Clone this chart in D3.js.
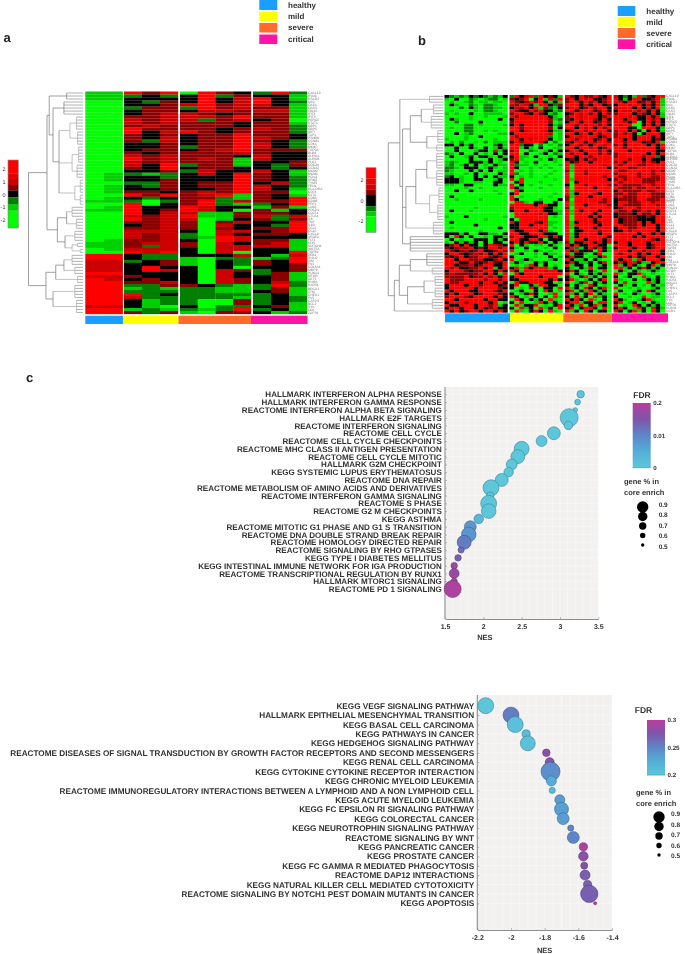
<!DOCTYPE html>
<html>
<head>
<meta charset="utf-8">
<script src="https://cdn.jsdelivr.net/npm/d3@7"></script>
<style>
  html, body { margin: 0; padding: 0; background: #fff; }
  svg { display: block; filter: blur(0.3px); text-rendering: geometricPrecision; }
  text { font-family: "Liberation Sans", Arial, sans-serif; }
</style>
</head>
<body>
<svg id="figure" width="685" height="954" viewBox="0 0 685 954"></svg>
<script>
// groups shared by both heatmaps
const groups = ["healthy", "mild", "severe", "critical"];
const samplesA = [2, 3, 4, 3];
const samplesB = [13, 11, 10, 11];

// heat levels, 0 = most green, 3 = black, 7 = most red. one string per gene, spaces split the groups
const heatA = [
  "11 747 0743 272", "11 232 3724 331", "11 333 3735 731", "00 324 3735 732", "00 334 5745 531",
  "00 244 2745 441", "00 344 3554 551", "00 345 5434 441", "00 445 5547 441", "00 545 5245 340",
  "00 545 4443 441", "00 454 4443 442", "00 744 4434 542", "00 735 7434 442", "00 434 3447 443",
  "00 435 3447 543", "00 425 3447 432", "00 334 3447 532", "00 334 2447 532", "00 344 3457 444",
  "00 434 4445 433", "00 545 4443 533", "00 745 4541 533", "00 545 4441 334", "00 537 2441 324",
  "00 437 3443 323", "00 334 2533 531", "01 212 3537 431", "01 332 3337 432", "01 334 3337 432",
  "00 224 3447 352", "01 324 3447 532", "01 334 3347 531", "01 443 4547 440", "00 747 4571 431",
  "01 323 4421 437", "11 202 4725 447", "00 703 4721 237", "01 733 7533 141", "11 734 7530 413",
  "00 735 5114 443", "00 545 7114 525", "00 745 5013 424", "00 445 4045 337", "00 345 4053 327",
  "00 445 4043 447", "00 555 3055 347", "00 545 2053 443", "00 545 2175 333", "01 445 3075 441",
  "11 455 4053 451", "11 425 4055 551", "01 555 3055 331", "00 757 3050 337", "77 322 3335 315",
  "77 322 1022 127", "55 234 1032 437", "55 334 1032 434", "55 373 3030 334", "55 375 3054 234",
  "77 333 3053 241", "55 433 3053 341", "75 343 3054 341", "77 445 3054 352", "77 224 4321 272",
  "77 121 2211 241", "77 222 2211 341", "77 723 2222 231", "77 522 2221 232", "77 312 2004 232",
  "77 312 2004 231", "55 310 3022 341", "77 121 2127 231", "77 424 1044 312"
];
const heatB = [
  "3212132321213 27357273431 7437447437 53231724377",
  "1030021012201 43470371527 4737573347 73137733471",
  "0100120110110 74347473131 4773747347 75377347371",
  "0310021022100 54753177324 7773537734 37757735371",
  "0002031022110 35473714213 4773474773 57773735370",
  "0100001022100 74337473312 7735773473 37557473730",
  "1010030011110 47743743120 3475747374 47773543731",
  "0000010010001 74777777310 4775777347 77757337371",
  "0310010000030 37777777412 4375774373 77377337473",
  "0020000300000 47777777401 3773773474 77537037373",
  "0000220100001 37377777312 7747577473 75770037373",
  "0100220000000 77477777403 7737573747 77733077731",
  "0000220010100 77357775311 3477475773 47737303731",
  "0030120000011 37777777501 7735737477 47473037773",
  "0000100300000 74777777201 3775777347 47773777373",
  "1000100000100 77375777301 7747773473 77373777343",
  "0102001020111 37477753020 4377374774 77477734371",
  "3303130000231 77233020102 3774737757 47377773737",
  "0030031030131 77131030011 7737757347 77477777737",
  "0030001330713 47002101303 3773777473 77737777733",
  "2103003010303 77030013021 7477377474 47777773737",
  "0300130331031 37110300103 7737747777 47777747723",
  "0000030003013 47100010310 3437374777 77747737333",
  "1210033313010 73010300010 7347737777 47377747437",
  "1201303010311 72110101001 7177777757 74777447777",
  "2210333013101 73001010100 7177777773 47744777777",
  "2100030303011 70101000010 4177477777 74477777474",
  "1100103010031 72001000100 7077477777 47777477477",
  "2301003030311 30101001000 7077777747 74477477447",
  "3331003300130 70700000010 7177777773 47477744447",
  "3331001100330 03700010000 7037777777 74777744477",
  "1100330000311 70301000100 3077477774 47444477477",
  "0000100100000 73100010000 7077773777 74447447747",
  "0030030000100 07300000000 7177777777 37444474477",
  "0000000000010 37000000010 7137775377 44744777444",
  "0300000000000 70100000100 4177737777 47444777444",
  "0010000100000 73000010003 4077777747 34444774447",
  "0000000000000 07710330030 7177777447 37744477477",
  "0000000000000 77777377330 7177377774 37444477747",
  "0000001000000 47777773310 4077777777 34777477777",
  "0300010000000 37737773311 7173777377 74473474737",
  "0000000000000 07777757331 7177773777 34443744737",
  "1000300000001 07777777010 7077737377 34444334377",
  "0000000010000 30777777000 7077773777 73444333377",
  "0300000000000 73777437110 7137773477 73444737377",
  "0000003000000 33773777100 7177777377 77444737737",
  "0100000000030 33777777010 7137773777 37744777737",
  "0000000100000 73377737100 7033777477 33747777737",
  "3331300331103 77337773330 7137777377 77777377373",
  "3073030010331 47733377373 7137777773 77773737777",
  "0301003330313 77337730333 7177377737 77777777437",
  "1031313030330 37373373031 4133773737 37737773777",
  "3473733037543 70310110310 7373377330 77737773477",
  "4345473437747 31030001030 3721373731 37773773477",
  "7434534733474 70010310100 7373330731 77737747773",
  "3774345473737 01300103110 7133103700 74777373773",
  "4347344774347 30000100301 3733011370 77737347737",
  "7737744533473 70131000130 7311303100 73771737773",
  "7773374347437 13100313000 3731130370 37377311377",
  "7734453477337 01017303010 7133030130 71373103713",
  "7473344737137 37173777130 3103170330 77130373130",
  "3777434477373 73177775773 3730131070 03103101310",
  "4544444737317 07377777777 7031031310 71033710100",
  "4444734474737 37777737770 3103713030 30130071030",
  "7444777747747 33777777373 3710130370 71003013130",
  "7447777377373 07337773301 7013703130 30701007130",
  "3777377477734 37003177330 3031073010 03103010301",
  "3777773777743 30107303307 7130730370 70010100130",
  "7377733777437 01300307301 3703173130 03001307300",
  "3737773477743 30137300170 7130370310 70103100130",
  "4777437777373 73010303071 3071307130 30010070110",
  "7737777737733 07303130710 7373071030 73100137100",
  "3777477773701 30700173130 3771330770 37013010310",
  "7337773774713 07133701037 7317037130 70107303130",
  "3773773734733 30713071307 3703773070 37301730731",
  "7373477377373 07103730710 7130730330 73037130730"
];

// gene labels, far too small to read in the source so these are estimates
const genes = ["CXCL10","IFI44L","RSAD2","MX1","OAS1","OAS3","ISG15","IFIT1","IFIT3","HERC5","STAT1","GBP1","GBP5","IRF7","TAP1","PSMB9",
  "CCNB1","CDK1","MKI67","TOP2A","BUB1","AURKA","AURKB","PLK1","CDC20","CCNA2","MCM2","MCM4","PCNA","RRM2","TYMS","FEN1",
  "HLA-DRA","CD74","CIITA","CD8A","GZMB","PRF1","LAG3","PDCD1","CD274","CTLA4","IL6","TNF","IL1B","CCL2","CCL5","CXCL9",
  "VEGFA","FLT1","KDR","NOTCH1","WNT5A","TGFB1","ZEB1","SNAI2","VIM","FN1","COL1A1","MMP9","RUNX1","MTOR","AKT1","RHOA",
  "RAD51","BRCA1","ATM","CHEK1","FAS","CASP3","BCL2","SYK","LCK","ZAP70","KLRD1","NCR1"];

// dendrograms: [height, children...], a plain number stands for that many leaves
const treeA = [1,
  [0.66,
    [0.62, [0.3, 3], [0.55, [0.35, 5], [0.44, [0.24, [0.12, 5], [0.1, 5]], [0.2, [0.08, 6], [0.11, 5]], [0.15, [0.05, 5], [0.05, 4]]]]],
    [0.47, [0.3, [0.2, 4], [0.12, 4]], [0.33, [0.15, 4], [0.2, [0.1, 2], [0.05, 2]]]]],
  [0.68, [0.5, [0.35, [0.2, 4], [0.15, 3]], [0.1, 3]], [0.55, [0.15, 5], [0.12, 5]]]
];
const treeB = [1,
  [0.79, [0.25, 3],
    [0.74,
      [0.6, [0.4, [0.18, 4], [0.22, 5]], [0.3, [0.1, 5], [0.12, 3]]],
      [0.68, [0.5, [0.3, [0.12, 6], [0.12, 6]], [0.25, [0.08, 6], [0.1, 6]]], [0.18, 5]],
      [0.6, 6]]],
  [0.89, [0.8, [0.6, [0.3, 5], [0.2, 3]], [0.65, [0.35, [0.15, 4], [0.15, 4]], [0.2, 4]]], 1]
];

// panel c
const pathwaysUp = ["HALLMARK INTERFERON ALPHA RESPONSE","HALLMARK INTERFERON GAMMA RESPONSE","REACTOME INTERFERON ALPHA BETA SIGNALING",
  "HALLMARK E2F TARGETS","REACTOME INTERFERON SIGNALING","REACTOME CELL CYCLE","REACTOME CELL CYCLE CHECKPOINTS",
  "REACTOME MHC CLASS II ANTIGEN PRESENTATION","REACTOME CELL CYCLE MITOTIC","HALLMARK G2M CHECKPOINT","KEGG SYSTEMIC LUPUS ERYTHEMATOSUS",
  "REACTOME DNA REPAIR","REACTOME METABOLISM OF AMINO ACIDS AND DERIVATIVES","REACTOME INTERFERON GAMMA SIGNALING","REACTOME S PHASE",
  "REACTOME G2 M CHECKPOINTS","KEGG ASTHMA","REACTOME MITOTIC G1 PHASE AND G1 S TRANSITION","REACTOME DNA DOUBLE STRAND BREAK REPAIR",
  "REACTOME HOMOLOGY DIRECTED REPAIR","REACTOME SIGNALING BY RHO GTPASES","KEGG TYPE I DIABETES MELLITUS",
  "KEGG INTESTINAL IMMUNE NETWORK FOR IGA PRODUCTION","REACTOME TRANSCRIPTIONAL REGULATION BY RUNX1","HALLMARK MTORC1 SIGNALING","REACTOME PD 1 SIGNALING"];
const nesUp = [3.27,3.23,3.2,3.12,3.11,2.92,2.76,2.5,2.45,2.37,2.33,2.24,2.1,2.09,2.07,2.07,1.94,1.83,1.81,1.75,1.71,1.67,1.62,1.62,1.62,1.6];
const coreUp = [0.59,0.54,0.5,0.9,0.62,0.75,0.69,0.81,0.78,0.69,0.65,0.75,0.84,0.59,0.84,0.8,0.65,0.72,0.8,0.78,0.55,0.56,0.56,0.66,0.55,0.87];
const fdrUp = [0,0,0,0,0,0,0,0,0,0,0,0,0,0,0,0,0.003,0.008,0.008,0.03,0.06,0.09,0.15,0.15,0.15,0.18];

// panel d
const pathwaysDown = ["KEGG VEGF SIGNALING PATHWAY","HALLMARK EPITHELIAL MESENCHYMAL TRANSITION","KEGG BASAL CELL CARCINOMA","KEGG PATHWAYS IN CANCER",
  "KEGG HEDGEHOG SIGNALING PATHWAY","REACTOME DISEASES OF SIGNAL TRANSDUCTION BY GROWTH FACTOR RECEPTORS AND SECOND MESSENGERS","KEGG RENAL CELL CARCINOMA",
  "KEGG CYTOKINE CYTOKINE RECEPTOR INTERACTION","KEGG CHRONIC MYELOID LEUKEMIA","REACTOME IMMUNOREGULATORY INTERACTIONS BETWEEN A LYMPHOID AND A NON LYMPHOID CELL",
  "KEGG ACUTE MYELOID LEUKEMIA","KEGG FC EPSILON RI SIGNALING PATHWAY","KEGG COLORECTAL CANCER","KEGG NEUROTROPHIN SIGNALING PATHWAY","REACTOME SIGNALING BY WNT",
  "KEGG PANCREATIC CANCER","KEGG PROSTATE CANCER","KEGG FC GAMMA R MEDIATED PHAGOCYTOSIS","REACTOME DAP12 INTERACTIONS","KEGG NATURAL KILLER CELL MEDIATED CYTOTOXICITY",
  "REACTOME SIGNALING BY NOTCH1 PEST DOMAIN MUTANTS IN CANCER","KEGG APOPTOSIS"];
const nesDown = [-2.15,-2,-1.975,-1.91,-1.9,-1.79,-1.77,-1.765,-1.76,-1.755,-1.71,-1.7,-1.69,-1.645,-1.63,-1.57,-1.57,-1.565,-1.56,-1.545,-1.535,-1.5];
const coreDown = [0.84,0.84,0.84,0.61,0.81,0.59,0.635,0.93,0.665,0.55,0.665,0.78,0.72,0.55,0.72,0.61,0.65,0.575,0.665,0.61,0.88,0.46];
const fdrDown = [0.2,0.255,0.205,0.21,0.205,0.28,0.28,0.245,0.225,0.21,0.235,0.235,0.235,0.25,0.25,0.295,0.28,0.275,0.27,0.27,0.27,0.3];

const coreTicks = [0.9, 0.8, 0.7, 0.6, 0.5];
const nesTicksUp = [1.5, 2, 2.5, 3, 3.5];
const nesTicksDown = [-2.2, -2, -1.8, -1.6, -1.4];

// colour scales
const groupColor = d3.scaleOrdinal(groups, ["#189fff", "#ffff00", "#ff6b2b", "#ff14a5"]);
const heatColor = d3.scaleOrdinal(d3.range(8),
  ["#00ff00", "#00cf00", "#007f00", "#000000", "#8b0000", "#cc0000", "#e60000", "#ff0000"]);
const fdrRamp = d3.scaleLinear([0, 0.25, 0.5, 0.75, 1],
  ["#5cc6da", "#55aed8", "#5d86c8", "#7f55aa", "#b93d9d"]);
const textDark = "#333";

var svg = d3.select("#figure");

// ---- heatmaps ----
function drawHeatmap(p) {
  var g = svg.append("g");
  var rows = p.rows.map(function(r) { return r.replace(/ /g, "").split("").map(Number); });
  var y = d3.scaleBand().domain(d3.range(rows.length)).range([p.top, p.bottom]);

  // one band scale per group, columns are numbered straight through
  var bands = [], offset = 0;
  p.samples.forEach(function(n, i) {
    bands.push(d3.scaleBand().domain(d3.range(offset, offset + n)).range(p.groupX[i]));
    offset += n;
  });
  function band(c) {
    return bands.find(function(b) { return b.domain().includes(c); });
  }

  g.selectAll("g.row").data(rows).enter().append("g").attr("class", "row")
    .attr("transform", function(d, i) { return "translate(0," + y(i) + ")"; })
    .selectAll("rect").data(function(d) { return d; }).enter().append("rect")
    .attr("x", function(d, c) { return band(c)(c); })
    .attr("width", function(d, c) { return band(c).bandwidth() + 0.2; })
    .attr("height", y.bandwidth() + 0.15)
    .attr("fill", function(d) { return heatColor(d); });

  // gene labels
  var axisG = g.append("g").attr("transform", "translate(" + p.labelX + ",0)")
    .call(d3.axisRight(y).tickSize(0).tickPadding(0)
      .tickFormat(function(i) { return p.genes[i]; }));
  axisG.select(".domain").remove();
  axisG.selectAll("text").attr("font-size", 3.3).attr("fill", "#777")
    .style("font-family", '"Liberation Sans", Arial, sans-serif');

  // group bar under the heatmap
  g.selectAll("rect.bar").data(groups).enter().append("rect").attr("class", "bar")
    .attr("x", function(d, i) { return p.barX[i]; })
    .attr("width", function(d, i) { return p.barX[i + 1] - p.barX[i]; })
    .attr("y", p.barY[0]).attr("height", p.barY[1] - p.barY[0])
    .attr("fill", function(d) { return groupColor(d); });

  drawTree(g, p.tree, y, p.treeX);
  drawKey(g, p.key);

  // legend swatches
  p.legendY.forEach(function(ly, i) {
    g.append("rect").attr("x", p.legendX[0]).attr("y", ly[0])
      .attr("width", p.legendX[1] - p.legendX[0]).attr("height", ly[1] - ly[0])
      .attr("fill", groupColor(groups[i]));
    g.append("text").attr("x", p.legendText).attr("y", (ly[0] + ly[1]) / 2 + 2.7)
      .attr("font-size", 8).attr("font-weight", "bold").attr("fill", textDark).text(groups[i]);
  });
}

function drawTree(g, tree, y, range) {
  var x = d3.scaleLinear().domain([0, 1]).range(range);
  var leaf = 0;
  // numbers become leaf nodes, the rows are handed out top to bottom
  function build(n) {
    var kids = [];
    n.slice(1).forEach(function(c) {
      if (typeof c === "number") {
        for (var k = 0; k < c; k++) kids.push({ h: 0, row: leaf++ });
      } else kids.push(build(c));
    });
    return { h: n[0], children: kids };
  }
  var root = d3.hierarchy(build(tree));
  root.eachAfter(function(n) {
    n.py = n.children ? (n.children[0].py + n.children[n.children.length - 1].py) / 2
      : y(n.data.row) + y.bandwidth() / 2;
  });
  // low branches read as a pale band in the source
  function shade(h) { return h < 0.3 ? "#a8a8a8" : "#777"; }
  // horizontal runs first, the light leaf lines have to sit under the brackets
  g.append("g").selectAll("line").data(root.links()).enter().append("line")
    .attr("x1", function(d) { return x(d.source.data.h); })
    .attr("x2", function(d) { return x(d.target.data.h); })
    .attr("y1", function(d) { return d.target.py; })
    .attr("y2", function(d) { return d.target.py; })
    .attr("stroke", function(d) { return d.target.children ? shade(d.target.data.h) : "#b8b8b8"; })
    .attr("stroke-width", function(d) { return d.target.children ? 0.7 : 1.1; });
  g.append("g").selectAll("line")
    .data(root.descendants().filter(function(n) { return n.children; })).enter().append("line")
    .attr("x1", function(d) { return x(d.data.h); })
    .attr("x2", function(d) { return x(d.data.h); })
    .attr("y1", function(d) { return d.children[0].py; })
    .attr("y2", function(d) { return d.children[d.children.length - 1].py; })
    .attr("stroke", function(d) { return shade(d.data.h); }).attr("stroke-width", 0.7);
}

function drawKey(g, k) {
  var y = d3.scaleLinear().domain(k.domain).range(k.y);
  var edges = [k.domain[1]].concat(k.edges).concat([k.domain[0]]);
  g.selectAll("rect.key").data(d3.pairs(edges)).enter().append("rect").attr("class", "key")
    .attr("x", k.x[0]).attr("width", k.x[1] - k.x[0])
    .attr("y", function(d) { return y(d[0]); })
    .attr("height", function(d) { return y(d[1]) - y(d[0]) + 0.1; })
    .attr("fill", function(d, i) { return heatColor(7 - i); });
  g.append("rect").attr("x", k.x[0]).attr("y", k.y[1]).attr("width", k.x[1] - k.x[0])
    .attr("height", k.y[0] - k.y[1]).attr("fill", "none").attr("stroke", "#888").attr("stroke-width", 0.6);
  g.selectAll("text.key").data(k.ticks).enter().append("text").attr("class", "key")
    .attr("x", k.x[0] - 2.5).attr("y", function(d) { return y(d) + 2; })
    .attr("text-anchor", "end").attr("font-size", 5.5).attr("fill", textDark)
    .text(function(d) { return d; });
}

drawHeatmap({
  rows: heatA, samples: samplesA, genes: genes.slice(0, 74), tree: treeA,
  top: 91.5, bottom: 314,
  groupX: [[85.3, 122.7], [124, 178], [180, 251], [253, 307]],
  labelX: 308, barX: [85.3, 123.3, 178.5, 251, 307.5], barY: [315.7, 324],
  treeX: [83, 28.5],
  key: { x: [8, 18.3], y: [228, 160], domain: [-2.64, 2.75], edges: [1.7, 1.25, 0.77, 0.32, -0.2, -0.74, -1.27], ticks: [2, 1, 0, -1, -2] },
  legendX: [259.3, 277.3], legendText: 288, legendY: [[0, 10], [11.5, 21], [23, 32.5], [34.5, 44]]
});

drawHeatmap({
  rows: heatB, samples: samplesB, genes: genes, tree: treeB,
  top: 95, bottom: 312.5,
  groupX: [[444.5, 507.5], [509.5, 562.5], [565, 611.5], [613.5, 665]],
  labelX: 666, barX: [445, 510, 563.3, 611.7, 668], barY: [313.3, 322.3],
  treeX: [443.3, 388.3],
  key: { x: [366, 376], y: [232.3, 167.7], domain: [-3.1, 3.2], edges: [2.15, 1.55, 1.05, 0.55, -0.55, -1.05, -1.55], ticks: [2, 0, -2] },
  legendX: [617.7, 635.3], legendText: 646.3, legendY: [[6, 16], [17, 26.7], [28, 38], [39.3, 49]]
});

// ---- bubble panels ----
var coreRadius = d3.scaleLinear().domain([0.5, 0.9]).range([2.2, 9]);   // bubbles
var legendRadius = d3.scaleLinear().domain([0.5, 0.9]).range([1.7, 5.7]); // the legend in the source is smaller

var defs = svg.append("defs");

function drawBubbles(p) {
  var g = svg.append("g");
  var x = d3.scaleLinear().domain(d3.extent(p.ticks)).range(p.xRange);
  var y = d3.scalePoint().domain(p.names).range(p.yRows);
  // the colour bar is not linear, its middle label sits halfway up
  var fdrT = d3.scaleLinear().domain(p.fdrDomain).range([0, 0.5, 1]);
  var fdrY = d3.scaleLinear().domain(p.fdrDomain).range([p.bar.y[0], (p.bar.y[0] + p.bar.y[1]) / 2, p.bar.y[1]]);
  function col(f) { return fdrRamp(fdrT(f)); }

  // panel background and its fine grid
  g.append("rect").attr("x", p.xRange[0]).attr("y", p.yPanel[0])
    .attr("width", p.xRange[1] - p.xRange[0]).attr("height", p.yPanel[1] - p.yPanel[0]).attr("fill", "#f2f1f0");
  g.append("g").selectAll("line").data(x.ticks(20)).enter().append("line")
    .attr("x1", x).attr("x2", x).attr("y1", p.yPanel[0]).attr("y2", p.yPanel[1])
    .attr("stroke", "#fff").attr("stroke-width", 0.35);
  g.append("g").selectAll("line").data(p.names).enter().append("line")
    .attr("x1", p.xRange[0]).attr("x2", p.xRange[1]).attr("y1", y).attr("y2", y)
    .attr("stroke", "#fff").attr("stroke-width", 0.35);

  // axes
  var xAxis = g.append("g").attr("transform", "translate(0," + p.yPanel[1] + ")")
    .call(d3.axisBottom(x).tickValues(p.ticks).tickSizeOuter(0).tickSizeInner(-2).tickPadding(5.5)
      .tickFormat(function(d) { return String(d); }));
  var yAxis = g.append("g").attr("transform", "translate(" + p.xRange[0] + ",0)")
    .call(d3.axisLeft(y).tickSize(-2).tickPadding(3.2));
  yAxis.select(".domain").attr("d", "M0," + p.yPanel[0] + "V" + p.yPanel[1]);
  [xAxis, yAxis].forEach(function(a) {
    a.select(".domain").attr("stroke", "#8c8c8c").attr("stroke-width", 1.1);
    a.selectAll(".tick line").attr("stroke", "#8c8c8c").attr("stroke-width", 0.6);
    a.selectAll("text").attr("font-weight", "bold").attr("fill", textDark)
      .style("font-family", '"Liberation Sans", Arial, sans-serif');
  });
  xAxis.selectAll("text").attr("font-size", 7);
  yAxis.selectAll("text").attr("font-size", p.labelSize);
  g.append("text").attr("x", x(p.nesAt)).attr("y", p.nesY).attr("text-anchor", "middle")
    .attr("font-size", 7.5).attr("font-weight", "bold").attr("fill", textDark).text("NES");

  // bubbles, later rows sit on top
  g.append("g").selectAll("circle").data(p.names).enter().append("circle")
    .attr("cx", function(d, i) { return x(p.nes[i]); })
    .attr("cy", function(d) { return y(d); })
    .attr("r", function(d, i) { return coreRadius(p.core[i]); })
    .attr("fill", function(d, i) { return col(p.fdr[i]); })
    .attr("stroke", function(d, i) { return d3.color(col(p.fdr[i])).darker(1.1); })
    .attr("stroke-width", 0.6);

  // FDR legend
  var id = "fdr" + p.id;
  var grad = defs.append("linearGradient").attr("id", id).attr("x1", 0).attr("y1", 1).attr("x2", 0).attr("y2", 0);
  fdrRamp.domain().forEach(function(t) {
    grad.append("stop").attr("offset", t).attr("stop-color", fdrRamp(t));
  });
  g.append("text").attr("x", p.bar.titleX).attr("y", p.bar.titleY).attr("text-anchor", "middle")
    .attr("font-size", 8.5).attr("font-weight", "bold").attr("fill", textDark).text("FDR");
  g.append("rect").attr("x", p.bar.x[0]).attr("y", p.bar.y[1])
    .attr("width", p.bar.x[1] - p.bar.x[0]).attr("height", p.bar.y[0] - p.bar.y[1])
    .attr("fill", "url(#" + id + ")");
  g.append("line").attr("x1", p.bar.x[0]).attr("x2", p.bar.x[1]).attr("y1", p.bar.y[0]).attr("y2", p.bar.y[0])
    .attr("stroke", "#3aa7b5").attr("stroke-width", 0.8);
  g.selectAll("text.fdr").data(p.fdrDomain).enter().append("text").attr("class", "fdr")
    .attr("x", p.bar.x[1] + 2.5).attr("y", function(d) { return fdrY(d) + 2.2; })
    .attr("font-size", 6.2).attr("font-weight", "bold").attr("fill", textDark)
    .text(function(d) { return d; });

  // gene % legend
  ["gene % in", "core enrich"].forEach(function(t, i) {
    g.append("text").attr("x", p.core2.textX).attr("y", p.core2.textY[i])
      .attr("font-size", 7.5).attr("font-weight", "bold").attr("fill", textDark).text(t);
  });
  var dotY = d3.scalePoint().domain(coreTicks).range(p.core2.dotY);
  var labY = d3.scalePoint().domain(coreTicks).range(p.core2.labY);
  g.selectAll("circle.dot").data(coreTicks).enter().append("circle").attr("class", "dot")
    .attr("cx", p.core2.dotX).attr("cy", dotY).attr("r", legendRadius).attr("fill", "#000");
  g.selectAll("text.dot").data(coreTicks).enter().append("text").attr("class", "dot")
    .attr("x", p.core2.labX).attr("y", function(d) { return labY(d) + 2.3; })
    .attr("font-size", 6.5).attr("font-weight", "bold").attr("fill", textDark)
    .text(function(d) { return d; });
}

drawBubbles({
  id: "up", names: pathwaysUp, nes: nesUp, core: coreUp, fdr: fdrUp, ticks: nesTicksUp,
  xRange: [445, 598.3], yPanel: [387, 619], yRows: [394.3, 589], labelSize: 8.05,
  nesAt: 2.02, nesY: 640,
  fdrDomain: [0, 0.01, 0.2],
  bar: { x: [632.7, 650.7], y: [467.7, 403], titleX: 642, titleY: 398 },
  core2: { textX: 624, textY: [483.5, 494.5], dotX: 642.7, dotY: [507, 545], labX: 658.7, labY: [504.3, 546.7] }
});

drawBubbles({
  id: "down", names: pathwaysDown, nes: nesDown, core: coreDown, fdr: fdrDown, ticks: nesTicksDown,
  xRange: [477.3, 612], yPanel: [695, 930], yRows: [705.7, 903.3], labelSize: 8.2,
  nesAt: -1.8, nesY: 953,
  fdrDomain: [0.2, 0.25, 0.3],
  bar: { x: [647, 665], y: [775, 720], titleX: 643.5, titleY: 713 },
  core2: { textX: 636, textY: [794.5, 805.5], dotX: 659, dotY: [817, 855], labX: 671, labY: [814, 856] }
});

// panel letters
[["a", 3.5, 42], ["b", 418, 44.5], ["c", 26, 382]].forEach(function(d) {
  svg.append("text").attr("x", d[1]).attr("y", d[2]).attr("font-size", 13).attr("font-weight", "bold")
    .attr("fill", "#222").text(d[0]);
});
</script>
</body>
</html>
